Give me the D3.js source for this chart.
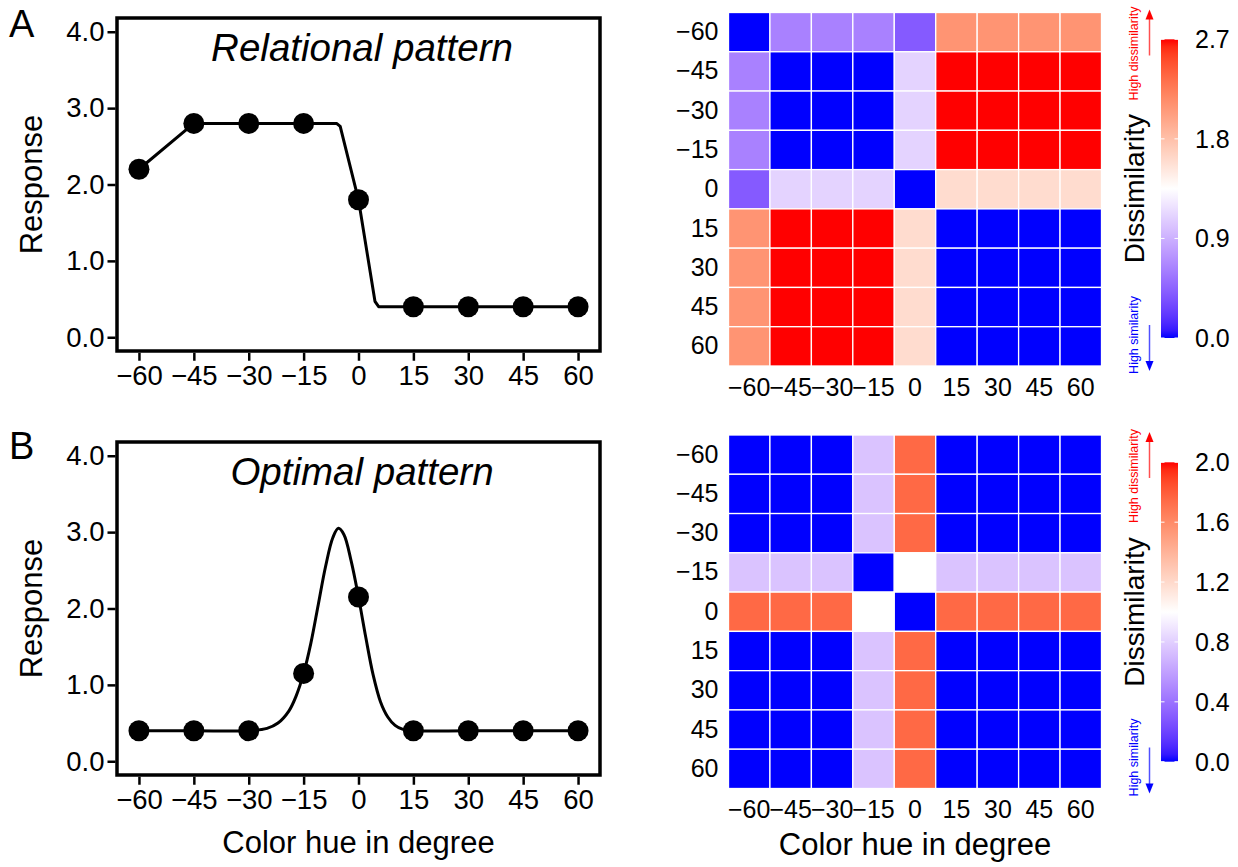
<!DOCTYPE html>
<html>
<head>
<meta charset="utf-8">
<script src="https://cdn.jsdelivr.net/npm/d3@7"></script>
<style>
  body { margin: 0; background: #fff; }
  svg { display: block; }
  text { font-family: "Liberation Sans", Arial, Helvetica, sans-serif; fill: #000; }
</style>
</head>
<body>
<svg id="fig" width="1238" height="867"></svg>
<script>
// ---- data ----
const hues = [-60, -45, -30, -15, 0, 15, 30, 45, 60];
const responseTicks = [0, 1, 2, 3, 4];

// A: relational pattern
const relResponse = [2.2, 2.8, 2.8, 2.8, 1.8, 0.4, 0.4, 0.4, 0.4];
const relCurveHue  = [-60, -45, -30, -15, -6, -5, 0, 4.5, 5.5, 15, 30, 45, 60];
const relCurveResp = [2.2, 2.8, 2.8, 2.8, 2.8, 2.76, 1.8, 0.47, 0.4, 0.4, 0.4, 0.4, 0.4];

// B: optimal pattern
const optResponse = [0.4, 0.4, 0.4, 1.15, 2.15, 0.4, 0.4, 0.4, 0.4];
const optCurveHue  = [-60, -45, -30, -25, -22, -19, -17, -15, -13, -11, -9, -7, -5.5, -4, -2, 0, 2, 4, 6, 8, 10, 12, 15, 30, 45, 60];
const optCurveResp = [0.4, 0.4, 0.4, 0.43, 0.5, 0.66, 0.86, 1.15, 1.55, 2.05, 2.55, 2.93, 3.05, 2.97, 2.62, 2.15, 1.62, 1.13, 0.78, 0.58, 0.47, 0.42, 0.4, 0.4, 0.4, 0.4];

// dissimilarity matrices, rows -60..60 (top to bottom), columns -60..60
const relDissim = [
  [0.00, 0.63, 0.63, 0.63, 0.40, 2.10, 2.10, 2.10, 2.10],
  [0.63, 0.00, 0.00, 0.00, 1.10, 2.70, 2.70, 2.70, 2.70],
  [0.63, 0.00, 0.00, 0.00, 1.10, 2.70, 2.70, 2.70, 2.70],
  [0.63, 0.00, 0.00, 0.00, 1.10, 2.70, 2.70, 2.70, 2.70],
  [0.40, 1.10, 1.10, 1.10, 0.00, 1.60, 1.60, 1.60, 1.60],
  [2.10, 2.70, 2.70, 2.70, 1.60, 0.00, 0.00, 0.00, 0.00],
  [2.10, 2.70, 2.70, 2.70, 1.60, 0.00, 0.00, 0.00, 0.00],
  [2.10, 2.70, 2.70, 2.70, 1.60, 0.00, 0.00, 0.00, 0.00],
  [2.10, 2.70, 2.70, 2.70, 1.60, 0.00, 0.00, 0.00, 0.00]
];
const optDissim = [
  [0.00, 0.00, 0.00, 0.75, 1.75, 0.00, 0.00, 0.00, 0.00],
  [0.00, 0.00, 0.00, 0.75, 1.75, 0.00, 0.00, 0.00, 0.00],
  [0.00, 0.00, 0.00, 0.75, 1.75, 0.00, 0.00, 0.00, 0.00],
  [0.75, 0.75, 0.75, 0.00, 1.00, 0.75, 0.75, 0.75, 0.75],
  [1.75, 1.75, 1.75, 1.00, 0.00, 1.75, 1.75, 1.75, 1.75],
  [0.00, 0.00, 0.00, 0.75, 1.75, 0.00, 0.00, 0.00, 0.00],
  [0.00, 0.00, 0.00, 0.75, 1.75, 0.00, 0.00, 0.00, 0.00],
  [0.00, 0.00, 0.00, 0.75, 1.75, 0.00, 0.00, 0.00, 0.00],
  [0.00, 0.00, 0.00, 0.75, 1.75, 0.00, 0.00, 0.00, 0.00]
];
const relBarLimit = 2.7;
const relBarTicks = [0, 0.9, 1.8, 2.7];
const optBarLimit = 2.0;
const optBarTicks = [0, 0.4, 0.8, 1.2, 1.6, 2.0];

// ---- drawing ----
const svg = d3.select("#fig");
const fmt1 = d3.format(".1f");
const fmtHue = d3.format("d");

function responsePanel(cfg) {
  const g = svg.append("g");
  const x = d3.scaleLinear().domain([-66, 66]).range([117, 600]);
  const y = d3.scaleLinear().domain([-0.18, 4.18]).range([cfg.bottom, cfg.top]);

  // y axis
  const ya = g.append("g")
    .attr("transform", "translate(115.5,0)")
    .call(d3.axisLeft(y).tickValues(responseTicks).tickFormat(fmt1).tickSize(8).tickPadding(3));
  ya.select(".domain").remove();
  ya.selectAll("line").attr("stroke", "#000").attr("stroke-width", 2.5);
  ya.selectAll("text").attr("font-size", 27.5);

  // x axis
  const xa = g.append("g")
    .attr("transform", `translate(0,${cfg.bottom + 1.75})`)
    .call(d3.axisBottom(x).tickValues(hues).tickFormat(fmtHue).tickSize(8).tickPadding(5));
  xa.select(".domain").remove();
  xa.selectAll("line").attr("stroke", "#000").attr("stroke-width", 2.5);
  xa.selectAll("text").attr("font-size", 27.5);

  // frame
  g.append("rect")
    .attr("x", x.range()[0]).attr("y", cfg.top)
    .attr("width", x.range()[1] - x.range()[0]).attr("height", cfg.bottom - cfg.top)
    .attr("fill", "none").attr("stroke", "#000").attr("stroke-width", 3.5);

  // fitted curve
  const curve = cfg.curveHue.map((h, i) => [h, cfg.curveResp[i]]);
  g.append("path")
    .datum(curve)
    .attr("fill", "none").attr("stroke", "#000").attr("stroke-width", 3)
    .attr("stroke-linejoin", "round")
    .attr("d", d3.line().x(d => x(d[0])).y(d => y(d[1])).curve(cfg.curve));

  // measured points
  g.selectAll("circle.pt")
    .data(hues.map((h, i) => [h, cfg.points[i]]))
    .join("circle")
    .attr("class", "pt")
    .attr("cx", d => x(d[0])).attr("cy", d => y(d[1])).attr("r", 10.5)
    .attr("fill", "#000");

  // titles
  g.append("text").attr("x", 362).attr("y", cfg.top + 43)
    .attr("text-anchor", "middle").attr("font-size", 38.5).attr("font-style", "italic")
    .text(cfg.title);
  g.append("text").attr("x", 9).attr("y", cfg.letterY)
    .attr("font-size", 38).text(cfg.letter);
  g.append("text")
    .attr("transform", `translate(42,${(cfg.top + cfg.bottom) / 2}) rotate(-90)`)
    .attr("text-anchor", "middle").attr("font-size", 31).text("Response");
  if (cfg.xTitle) {
    g.append("text").attr("x", 358.5).attr("y", cfg.bottom + 78)
      .attr("text-anchor", "middle").attr("font-size", 31).text(cfg.xTitle);
  }
}

function heatmapPanel(cfg) {
  const g = svg.append("g");
  const xb = d3.scaleBand().domain(hues).range([728.5, 1101.5]);
  const yb = d3.scaleBand().domain(hues).range([cfg.top, cfg.top + 353.5]);
  const color = d3.scaleLinear()
    .domain([0, cfg.limit / 2, cfg.limit])
    .range(["#0000ff", "#ffffff", "#ff0000"])
    .interpolate(d3.interpolateLab)
    .clamp(true);

  const cells = [];
  cfg.matrix.forEach((row, r) => row.forEach((v, c) => cells.push({ r: hues[r], c: hues[c], v })));
  g.selectAll("rect.cell").data(cells).join("rect")
    .attr("class", "cell")
    .attr("x", d => xb(d.c)).attr("y", d => yb(d.r))
    .attr("width", xb.bandwidth()).attr("height", yb.bandwidth())
    .attr("fill", d => color(d.v))
    .attr("stroke", "#fff").attr("stroke-width", 1.3);

  const ya = g.append("g").attr("transform", `translate(${xb.range()[0]},0)`)
    .call(d3.axisLeft(yb).tickFormat(fmtHue).tickSize(0).tickPadding(10));
  ya.select(".domain").remove();
  ya.selectAll("text").attr("font-size", 25);

  const hBottom = yb.range()[1];
  const xa = g.append("g").attr("transform", `translate(0,${hBottom})`)
    .call(d3.axisBottom(xb).tickFormat(fmtHue).tickSize(0).tickPadding(12));
  xa.select(".domain").remove();
  xa.selectAll("text").attr("font-size", 25);

  // colour bar
  const barX = 1161, barW = 17;
  const cb = d3.scaleLinear().domain([0, cfg.limit]).range([cfg.barBottom, cfg.barTop]);
  const gradId = "grad-" + cfg.id;
  const grad = svg.append("defs").append("linearGradient")
    .attr("id", gradId).attr("x1", 0).attr("y1", 1).attr("x2", 0).attr("y2", 0);
  d3.range(0, 41).forEach(i => {
    const t = i / 40;
    grad.append("stop").attr("offset", t).attr("stop-color", color(t * cfg.limit));
  });
  g.append("rect").attr("x", barX).attr("y", cb(cfg.limit))
    .attr("width", barW).attr("height", cb(0) - cb(cfg.limit))
    .attr("fill", `url(#${gradId})`);
  cfg.barTicks.forEach(v => {
    g.append("line").attr("x1", barX).attr("x2", barX + 3.5).attr("y1", cb(v)).attr("y2", cb(v))
      .attr("stroke", "#fff").attr("stroke-width", 1);
    g.append("line").attr("x1", barX + barW - 3.5).attr("x2", barX + barW).attr("y1", cb(v)).attr("y2", cb(v))
      .attr("stroke", "#fff").attr("stroke-width", 1);
    g.append("text").attr("x", 1195).attr("y", cb(v)).attr("dy", "0.36em")
      .attr("font-size", 25).text(fmt1(v));
  });
  g.append("text")
    .attr("transform", `translate(1144,${(cfg.barTop + cfg.barBottom) / 2}) rotate(-90)`)
    .attr("text-anchor", "middle").attr("font-size", 28).text("Dissimilarity");

  // direction hints
  const top = cfg.top;
  g.append("text")
    .attr("transform", `translate(1138,${top + 41}) rotate(-90)`)
    .attr("text-anchor", "middle").attr("font-size", 12.5).style("fill", "#ff0000")
    .text("High dissimilarity");
  g.append("line").attr("x1", 1149.5).attr("x2", 1149.5).attr("y1", top + 43).attr("y2", top + 2)
    .attr("stroke", "#ff5050").attr("stroke-width", 1.5);
  g.append("path")
    .attr("d", `M1149.5,${top - 3}L1145.5,${top + 7}L1153.5,${top + 7}Z`)
    .attr("fill", "#ff0000");

  g.append("text")
    .attr("transform", `translate(1138,${hBottom - 31}) rotate(-90)`)
    .attr("text-anchor", "middle").attr("font-size", 12.5).style("fill", "#0000ff")
    .text("High similarity");
  g.append("line").attr("x1", 1149.5).attr("x2", 1149.5).attr("y1", hBottom - 41).attr("y2", hBottom - 2)
    .attr("stroke", "#5050ff").attr("stroke-width", 1.5);
  g.append("path")
    .attr("d", `M1149.5,${hBottom + 5}L1145.5,${hBottom - 5}L1153.5,${hBottom - 5}Z`)
    .attr("fill", "#0000ff");

  if (cfg.xTitle) {
    g.append("text").attr("x", 915).attr("y", hBottom + 66)
      .attr("text-anchor", "middle").attr("font-size", 31).text(cfg.xTitle);
  }
}

responsePanel({
  top: 18, bottom: 351, letter: "A", letterY: 37, title: "Relational pattern",
  points: relResponse, curveHue: relCurveHue, curveResp: relCurveResp, curve: d3.curveLinear
});
responsePanel({
  top: 442, bottom: 775, letter: "B", letterY: 459, title: "Optimal pattern",
  points: optResponse, curveHue: optCurveHue, curveResp: optCurveResp, curve: d3.curveCatmullRom,
  xTitle: "Color hue in degree"
});
heatmapPanel({
  id: "rel", top: 12.5, matrix: relDissim, limit: relBarLimit, barTicks: relBarTicks,
  barTop: 39.3, barBottom: 338
});
heatmapPanel({
  id: "opt", top: 435, matrix: optDissim, limit: optBarLimit, barTicks: optBarTicks,
  barTop: 462.3, barBottom: 761.7, xTitle: "Color hue in degree"
});
</script>
</body>
</html>
